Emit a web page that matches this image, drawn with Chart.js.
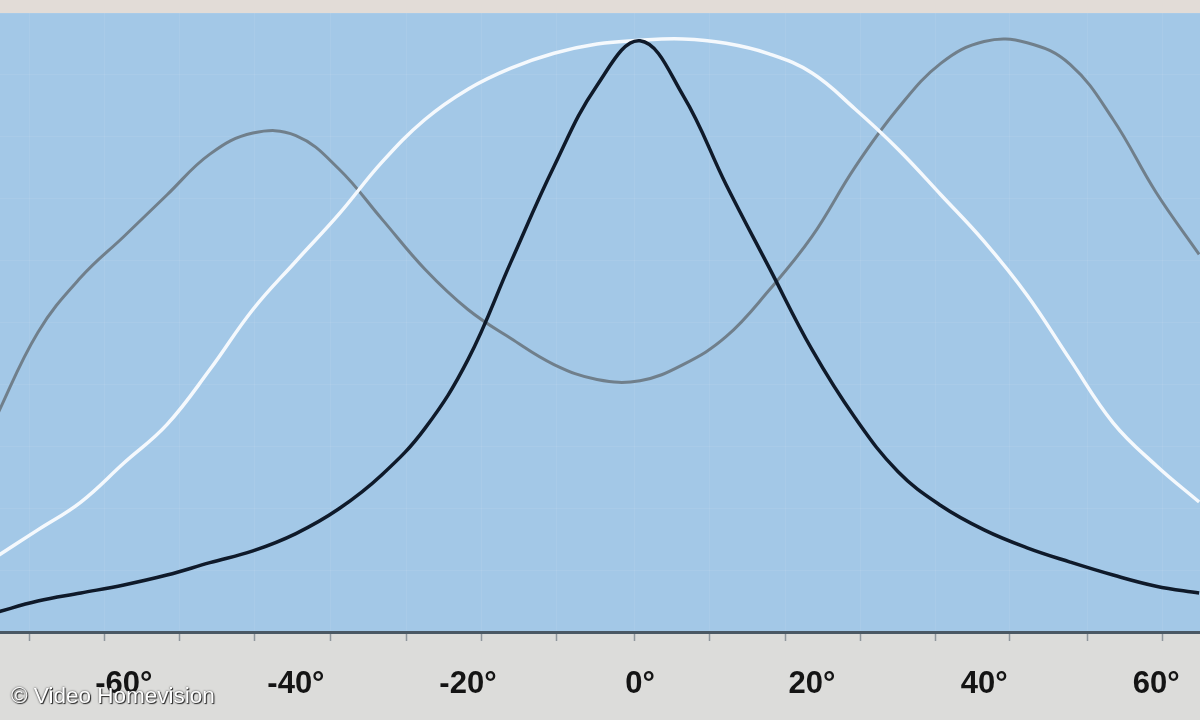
<!DOCTYPE html>
<html>
<head>
<meta charset="utf-8">
<script src="https://cdn.jsdelivr.net/npm/chart.js@4.4.0/dist/chart.umd.min.js"></script>
<style>
    body { margin: 0; background: linear-gradient(#e2dcd7 0, #e2dcd7 13px, #dcdcda 13px); }
    #wrap { position: relative; width: 1200px; height: 720px; }
    #credit {
        position: absolute; left: 11px; top: 683px;
        font: 22.5px "Liberation Sans", Arial, sans-serif; color: #fff;
        text-shadow: 0 0 2px #333, 1px 1px 1px #222;
    }
</style>
</head>
<body>
<div id="wrap">
    <canvas id="chart"></canvas>
    <div id="credit">© Video Homevision</div>
</div>
<script>
// Blickwinkel in Grad
const angles = [-75, -70, -65, -60, -55, -50, -45, -40, -35, -30, -25, -20, -15, -10, -5,
    0, 5, 10, 15, 20, 25, 30, 35, 40, 45, 50, 55, 60, 65];

// schwarze Kurve
const blackValues = [3.1, 5.0, 6.3, 7.6, 9.2, 11.2, 13.1, 15.9, 19.9, 25.4, 32.9, 44.0, 59.8, 75.2, 88.3,
    95.5, 86.7, 72.3, 58.9, 45.6, 34.6, 25.9, 20.4, 16.5, 13.6, 11.3, 9.2, 7.4, 6.3];

// graue Kurve
const greyValues = [34.3, 48.4, 57.3, 63.9, 70.6, 77.2, 80.6, 80.2, 74.8, 66.7, 58.6, 52.1, 47.4, 43.2, 40.8,
    40.6, 43.2, 47.7, 55.2, 63.9, 75.1, 84.6, 91.9, 95.4, 95.2, 91.7, 82.8, 71.0, 61.0];

// weiße Kurve
const whiteValues = [12.0, 16.5, 21.0, 27.3, 33.5, 42.4, 52.1, 59.9, 67.5, 75.9, 82.8, 87.7, 91.1, 93.5, 95.0,
    95.6, 95.8, 95.1, 93.4, 90.3, 84.5, 78.0, 70.6, 63.1, 54.4, 44.0, 33.8, 26.9, 21.0];

// Achsenbeschriftung und kleine Striche
const labelTicks = [-60, -40, -20, 0, 20, 40, 60];
const minorTicks = [-71, -62.3, -53.5, -44.8, -36, -27.2, -18.4, -9.7, -0.6, 8.1, 16.9, 25.6, 34.3, 43, 52, 60.7];

const toPoints = values => angles.map((a, i) => ({ x: a, y: values[i] }));

const isLabel = v => labelTicks.includes(v);

// Hintergrund der Zeichenfläche
const plotBackground = {
    id: 'plotBackground',
    beforeDraw(chart) {
        const { ctx, chartArea } = chart;
        ctx.save();
        ctx.fillStyle = '#a3c8e7';
        ctx.fillRect(chartArea.left, chartArea.top, chartArea.right - chartArea.left, chartArea.bottom - chartArea.top);
        ctx.restore();
    }
};

const lineStyle = {
    pointRadius: 0,
    fill: false,
    tension: 0.4
};

new Chart(document.getElementById('chart'), {
    type: 'line',
    data: {
        datasets: [
            { ...lineStyle, label: 'schwarz', data: toPoints(blackValues), borderColor: '#0f1a2a', borderWidth: 3.5 },
            { ...lineStyle, label: 'weiß', data: toPoints(whiteValues), borderColor: '#f5f9fd', borderWidth: 3.5 },
            { ...lineStyle, label: 'grau', data: toPoints(greyValues), borderColor: '#707f8b', borderWidth: 3 }
        ]
    },
    options: {
        responsive: true,
        maintainAspectRatio: false,
        animation: false,
        layout: { padding: { top: 13, left: 0, right: 0, bottom: 0 } },
        plugins: {
            legend: { display: false },
            tooltip: { enabled: false }
        },
        scales: {
            x: {
                type: 'linear',
                min: -74.4,
                max: 65.1,
                afterBuildTicks(scale) {
                    scale.ticks = [...minorTicks, ...labelTicks]
                        .sort((a, b) => a - b)
                        .map(v => ({ value: v }));
                },
                afterFit(scale) { scale.height = 88; },
                border: { display: true, color: '#4a5864', width: 3 },
                grid: {
                    drawOnChartArea: true,
                    color: ctx => isLabel(ctx.tick.value) ? 'rgba(0,0,0,0)' : 'rgba(255,255,255,0.07)',
                    tickColor: ctx => isLabel(ctx.tick.value) ? 'rgba(0,0,0,0)' : '#8f969c',
                    tickWidth: 1.5,
                    tickLength: 9
                },
                ticks: {
                    autoSkip: false,
                    maxRotation: 0,
                    padding: 25,
                    color: '#141414',
                    font: { family: '"Liberation Sans", Arial, sans-serif', size: 31, weight: 'bold' },
                    callback: v => isLabel(v) ? v + '°' : ''
                }
            },
            y: {
                min: 0,
                max: 100,
                afterFit(scale) { scale.width = 0; },
                border: { display: false },
                grid: { color: 'rgba(255,255,255,0.07)', drawTicks: false },
                ticks: { display: false, stepSize: 10 }
            }
        }
    },
    plugins: [plotBackground]
});
</script>
</body>
</html>
